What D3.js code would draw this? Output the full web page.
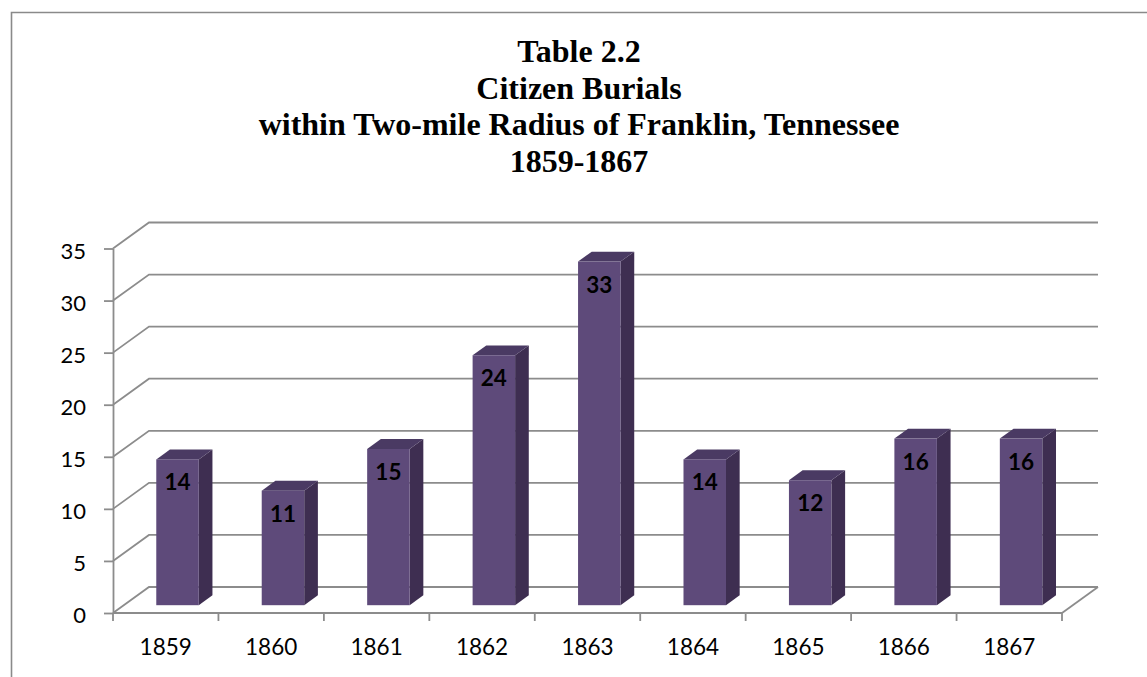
<!DOCTYPE html>
<html>
<head>
<meta charset="utf-8">
<script src="https://cdn.jsdelivr.net/npm/d3@7"></script>
<style>
  html, body { margin: 0; padding: 0; background: #fff; }
  svg { display: block; }
</style>
</head>
<body>
<svg id="chart" width="1147" height="677"></svg>
<script>
const years = ["1859", "1860", "1861", "1862", "1863", "1864", "1865", "1866", "1867"];
const burials = [14, 11, 15, 24, 33, 14, 12, 16, 16];
const yTicks = [0, 5, 10, 15, 20, 25, 30, 35];
const titleLines = [
  "Table 2.2",
  "Citizen Burials",
  "within Two-mile Radius of Franklin, Tennessee",
  "1859-1867"
];

(function () {
const svg = d3.select("#chart");

// frame
svg.append("path")
  .attr("d", "M11.5,690 L11.5,12.5 L1160,12.5")
  .attr("fill", "none").attr("stroke", "#8a8a8a").attr("stroke-width", 1.6);

// title
const title = svg.append("text")
  .attr("text-anchor", "middle")
  .attr("font-family", "'Liberation Serif', 'Times New Roman', serif")
  .attr("font-weight", "bold")
  .attr("font-size", 32)
  .attr("fill", "#000");
titleLines.forEach((t, i) => {
  title.append("tspan").attr("x", 579).attr("y", 62 + i * 36.6).text(t);
});

// scales (front plane)
const x = d3.scaleBand().domain(years).range([113, 1062]).paddingInner(0).paddingOuter(0);
const y = d3.scaleLinear().domain([0, 35]).range([613, 248.5]);
const DX = 36, DY = -26; // depth vector of the oblique projection
const P = (px, py, f) => [px + DX * f, py + DY * f];

const gridColor = "#8c8c8c";
const gw = 1.8;

// gridlines: side wall diagonal + back wall line
const grid = svg.append("g");
yTicks.forEach(v => {
  const a = [x.range()[0], y(v)];
  const b = P(a[0], a[1], 1);
  const c = P(x.range()[1], y(v), 1);
  grid.append("path")
    .attr("d", d3.line()([a, b, c]))
    .attr("fill", "none").attr("stroke", gridColor).attr("stroke-width", gw);
});

// floor right edge
{
  const a = [x.range()[1], y(0)];
  const b = P(a[0], a[1], 1);
  grid.append("path").attr("d", d3.line()([a, b]))
    .attr("fill", "none").attr("stroke", gridColor).attr("stroke-width", gw);
}

// value axis (front)
const yAxis = d3.axisLeft(y).tickValues(yTicks).tickSize(9).tickPadding(8).tickSizeOuter(0);
const gy = svg.append("g").attr("transform", `translate(${x.range()[0]},0)`).call(yAxis);
gy.select(".domain").attr("stroke", gridColor).attr("stroke-width", gw);
gy.selectAll(".tick line").attr("stroke", gridColor).attr("stroke-width", gw);
gy.selectAll(".tick text")
  .attr("font-family", "Lato, 'Open Sans', sans-serif")
  .attr("font-size", 22).attr("fill", "#000")
  .attr("x", -27).attr("dy", "0.45em");

// category axis (front floor edge)
const bounds = years.map(d => x(d)).concat([x.range()[1]]);
const gx = svg.append("g");
gx.append("line")
  .attr("x1", x.range()[0]).attr("x2", x.range()[1])
  .attr("y1", y(0)).attr("y2", y(0))
  .attr("stroke", gridColor).attr("stroke-width", gw);
gx.selectAll("line.tk").data(bounds).join("line").attr("class", "tk")
  .attr("x1", d => d).attr("x2", d => d)
  .attr("y1", y(0)).attr("y2", y(0) + 8)
  .attr("stroke", gridColor).attr("stroke-width", gw);
gx.selectAll("text").data(years).join("text")
  .attr("x", d => x(d) + x.bandwidth() / 2)
  .attr("y", 655)
  .attr("text-anchor", "middle")
  .attr("font-family", "Lato, 'Open Sans', sans-serif")
  .attr("font-size", 22.5).attr("fill", "#000")
  .text(d => d);

// bars (3D boxes)
const f0 = 0.3, f1 = 0.68;
const bw = x.bandwidth() * 0.403;
const frontCol = "#5e4a7a", sideCol = "#3e2e51", topCol = "#4a3a63";
const bars = svg.append("g");
years.forEach((yr, i) => {
  const v = burials[i];
  const cx = x(yr) + x.bandwidth() / 2 + 1;
  const xl = cx - bw / 2, xr = cx + bw / 2;
  const [fxl, fyb] = P(xl, y(0), f0);
  const [fxr] = P(xr, y(0), f0);
  const fyt = P(xl, y(v), f0)[1];
  const [bxr, byt] = P(xr, y(v), f1);
  const [bxl] = P(xl, y(v), f1);
  const byb = P(xr, y(0), f1)[1];
  bars.append("path")
    .attr("d", d3.line()([[fxr, fyt], [bxr, byt], [bxr, byb], [fxr, fyb]]) + "Z")
    .attr("fill", sideCol);
  bars.append("path")
    .attr("d", d3.line()([[fxl, fyt], [bxl, byt], [bxr, byt], [fxr, fyt]]) + "Z")
    .attr("fill", topCol);
  bars.append("rect")
    .attr("x", fxl).attr("y", fyt)
    .attr("width", fxr - fxl).attr("height", fyb - fyt)
    .attr("fill", frontCol);
  bars.append("text")
    .attr("x", (fxl + fxr) / 2)
    .attr("y", fyt + 31)
    .attr("text-anchor", "middle")
    .attr("font-family", "Lato, 'Open Sans', sans-serif")
    .attr("font-weight", "bold")
    .attr("font-size", 22.5)
    .attr("fill", "#000")
    .text(v);
});
})();
</script>
</body>
</html>
